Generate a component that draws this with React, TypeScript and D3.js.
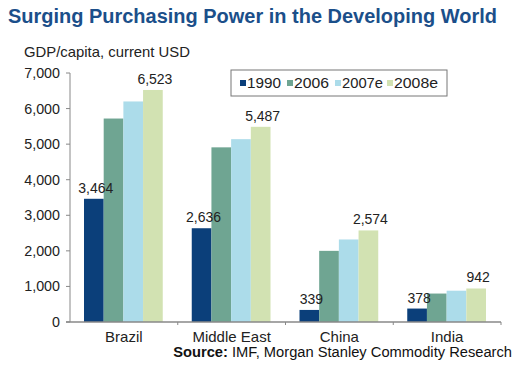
import React, { useLayoutEffect, useRef, useState } from "react";
import * as d3 from "d3";

const categories = ["Brazil", "Middle East", "China", "India"];
const seriesNames = ["1990", "2006", "2007e", "2008e"];
const v1990 = [3464, 2636, 339, 378];
const v2006 = [5720, 4910, 2000, 800];
const v2007 = [6200, 5140, 2320, 880];
const v2008 = [6523, 5487, 2574, 942];
const seriesValues = [v1990, v2006, v2007, v2008];
const labeled: Record<string, boolean[]> = {
  "1990": [true, true, true, true],
  "2006": [false, false, false, false],
  "2007e": [false, false, false, false],
  "2008e": [true, true, true, true],
};
const yTicks = [0, 1000, 2000, 3000, 4000, 5000, 6000, 7000];
const colors = ["#0b3f7a", "#6fa592", "#acdcea", "#d2e2b2"];

const FONT = "'Liberation Sans', Arial, sans-serif";
const TITLE = "Surging Purchasing Power in the Developing World";

export default function App() {
  const titleRef = useRef<SVGTextElement>(null);
  const [tScale, setTScale] = useState(0.9);
  useLayoutEffect(() => {
    if (titleRef.current) {
      const len = titleRef.current.getComputedTextLength();
      if (len > 0) setTScale(489 / len);
    }
  }, []);

  const x0 = d3.scaleBand<string>().domain(categories).range([70, 501]).paddingInner(0).paddingOuter(0);
  const x1 = d3
    .scaleBand<string>()
    .domain(seriesNames)
    .range([14, x0.bandwidth() - 15])
    .padding(0);
  const y = d3.scaleLinear().domain([0, 7000]).range([322, 73]);
  const fmt = d3.format(",");

  return (
    <svg width={520} height={377} style={{ position: "absolute", left: 0, top: 0, background: "#fff" }}>
      <text
        ref={titleRef}
        transform={`translate(8,23) scale(${tScale},1)`}
        fontFamily={FONT}
        fontWeight="bold"
        fontSize={21}
        fill="#1b4f8a"
      >
        {TITLE}
      </text>
      <text x={24} y={57} fontFamily={FONT} fontSize={14.8} fill="#222" textLength={166} lengthAdjust="spacingAndGlyphs">
        GDP/capita, current USD
      </text>
      {/* bars */}
      {categories.map((c, ci) => (
        <g key={c} transform={`translate(${x0(c)},0)`}>
          {seriesNames.map((s, si) => {
            const v = seriesValues[si][ci];
            return (
              <rect
                key={s}
                x={x1(s)}
                y={y(v)}
                width={x1.bandwidth()}
                height={y(0) - y(v)}
                fill={colors[si]}
              />
            );
          })}
          {seriesNames.map((s, si) => {
            if (!labeled[s][ci]) return null;
            const v = seriesValues[si][ci];
            return (
              <text
                key={"l" + s}
                x={(x1(s) as number) + x1.bandwidth() / 2 + 2}
                y={y(v) - 6}
                textAnchor="middle"
                fontFamily={FONT}
                fontSize={14}
                fill="#222"
              >
                {fmt(v)}
              </text>
            );
          })}
        </g>
      ))}
      {/* y axis */}
      <line x1={70} x2={70} y1={y(7000)} y2={y(0)} stroke="#888" strokeWidth={1} />
      {yTicks.map((t) => (
        <g key={t}>
          <line x1={66} x2={70} y1={y(t)} y2={y(t)} stroke="#888" />
          <text x={60} y={y(t) + 5} textAnchor="end" fontFamily={FONT} fontSize={14.3} fill="#222">
            {fmt(t)}
          </text>
        </g>
      ))}
      {/* x axis */}
      <line x1={66} x2={501} y1={y(0)} y2={y(0)} stroke="#888" strokeWidth={1.5} />
      {categories.map((c) => (
        <line key={"t" + c} x1={(x0(c) as number) + x0.bandwidth()} x2={(x0(c) as number) + x0.bandwidth()} y1={y(0)} y2={y(0) + 3} stroke="#888" />
      ))}
      {categories.map((c) => (
        <text key={"c" + c} x={(x0(c) as number) + x0.bandwidth() / 2} y={342} textAnchor="middle" fontFamily={FONT} fontSize={15} fill="#222">
          {c}
        </text>
      ))}
      {/* legend */}
      <rect x={231} y={70} width={216} height={26} fill="#fff" stroke="#777" strokeWidth={1} />
      {seriesNames.map((s, i) => {
        const lx = [240, 287, 335, 387][i];
        const tw = [34, 35, 41, 44][i];
        return (
          <g key={"lg" + s}>
            <rect x={lx} y={80} width={6} height={6} fill={colors[i]} />
            <text x={lx + 7} y={88} fontFamily={FONT} fontSize={14.5} fill="#222" textLength={tw} lengthAdjust="spacingAndGlyphs">
              {s}
            </text>
          </g>
        );
      })}
      {/* source */}
      <text x={512} y={357} textAnchor="end" fontFamily={FONT} fontSize={14.7} fill="#111">
        <tspan fontWeight="bold">Source:</tspan> IMF, Morgan Stanley Commodity Research
      </text>
    </svg>
  );
}
